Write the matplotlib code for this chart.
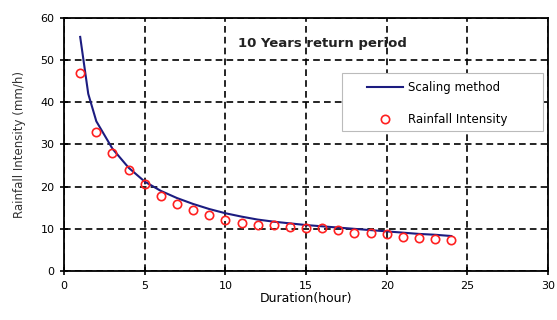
import numpy as np
import matplotlib.pyplot as plt
from matplotlib.patches import Rectangle

# duration (hour)
dur = [1, 2, 3, 4, 5, 6, 7, 8, 9, 10, 11, 12, 13, 14, 15, 16, 17, 18, 19, 20, 21, 22, 23, 24]
# observed rainfall intensity (mm/h)
intensity = [47, 33, 28, 24, 20.7, 17.9, 15.8, 14.5, 13.2, 12.2, 11.3, 10.8, 10.8, 10.5,
             10.3, 10.1, 9.7, 9.1, 8.9, 8.7, 8.1, 7.9, 7.7, 7.4]
# scaling method curve
scale_x = [1, 1.5, 2, 3, 4, 5, 6, 7, 8, 9, 10, 11, 12, 13, 14, 15, 16, 17, 18, 19, 20, 21, 22, 23, 24]
scale_y = [55.5, 42, 35.5, 29, 24.5, 21.2, 19, 17.3, 15.9, 14.7, 13.7, 12.9, 12.2, 11.7, 11.3,
           10.9, 10.6, 10.3, 10.0, 9.7, 9.4, 9.1, 8.8, 8.6, 8.3]

plt.rcParams['font.family'] = ['DejaVu Sans']

fig = plt.figure(figsize=(5.57, 3.2), dpi=100)
ax = fig.add_axes([0.115, 0.153, 0.869, 0.791])

ax.plot(scale_x, scale_y, color='#1c1c80', lw=1.5, label='Scaling method')
ax.plot(dur, intensity, 'o', mfc='none', mec='#ff2020', mew=1.2, ms=6, label='Rainfall Intensity')

ax.set_xlim(0, 30)
ax.set_ylim(0, 60)
ax.set_xticks(np.arange(0, 31, 5))
ax.set_yticks(np.arange(0, 61, 10))
ax.grid(True, color='black', ls=(0, (4, 2.5)), lw=1.2)
for s in ax.spines.values():
    s.set_linewidth(1.3)
ax.tick_params(direction='inout', length=6, width=1.2, labelsize=8, pad=4)

ax.set_xlabel('Duration(hour)', fontsize=9, labelpad=1)
ax.set_ylabel('Rainfall Intensity (mm/h)', fontsize=8.5, labelpad=10, color='#333333')

ax.text(0.36, 0.90, '10 Years return period', transform=ax.transAxes,
        fontsize=9.5, fontweight='bold', va='center', color='#222222')

# legend frame drawn separately so the padding can be wide
ax.add_patch(Rectangle((0.574, 0.553), 0.415, 0.229, transform=ax.transAxes,
                       facecolor='white', edgecolor='#bbbbbb', lw=0.8, zorder=4))
leg = ax.legend(loc='upper left', bbox_to_anchor=(0.626, 0.751), fontsize=8.5,
                frameon=False, borderpad=0, borderaxespad=0,
                handlelength=3.05, handletextpad=0.42, labelspacing=1.6)
leg.set_zorder(5)

fig.savefig('out.png', dpi=100)
